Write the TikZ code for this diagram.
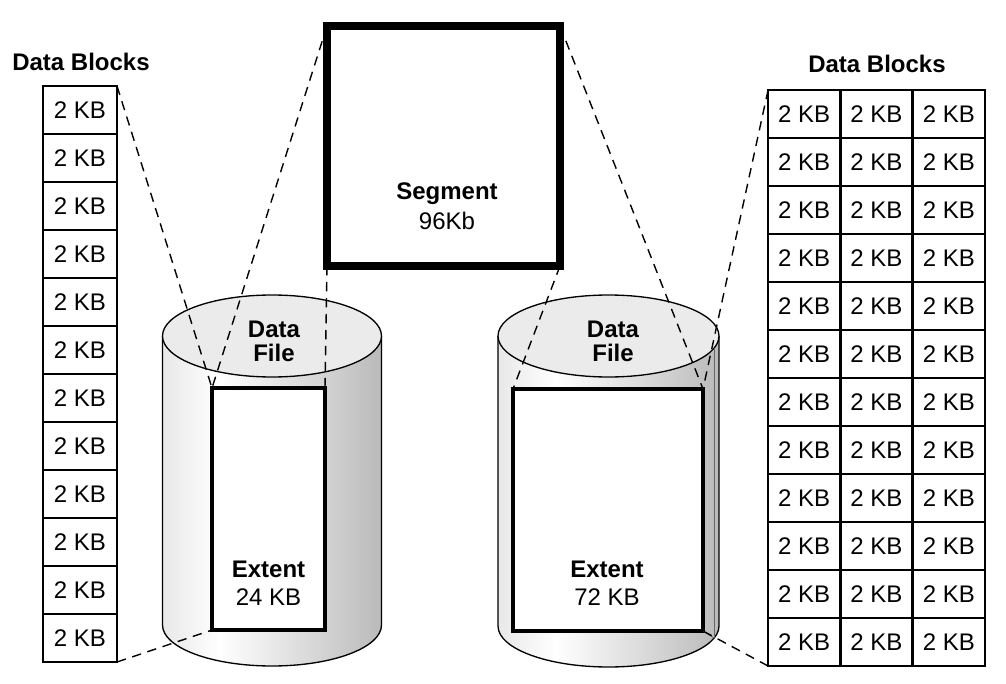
\documentclass[tikz,border=0pt]{standalone}
\usepackage{fontspec}
\setmainfont{Liberation Sans}
\pgfdeclarehorizontalshading{cylshade}{100bp}{color(0bp)=(black!9); color(25bp)=(black!9); color(38bp)=(white); color(75bp)=(black!27); color(100bp)=(black!27)}
\begin{document}
\begin{tikzpicture}[x=0.75pt,y=-0.75pt,
  font=\fontsize{18}{21}\selectfont,
  blk/.style={draw, line width=1.8pt, minimum width=55.5pt, minimum height=36pt, inner sep=0pt, outer sep=0pt, fill=white},
  rblk/.style={blk, minimum width=54.2pt},
  segbox/.style={draw, line width=6pt, minimum width=174.75pt, minimum height=180pt, inner sep=0pt, outer sep=0pt, fill=white},
  extbox/.style={draw, line width=2.6pt, minimum height=181.5pt, inner sep=0pt, outer sep=0pt, fill=white},
  conn/.style={line width=1.05pt, dash pattern=on 7pt off 5pt},
  cyl/.style={line width=1pt},
  lbl/.style={anchor=base, inner sep=0pt},
  blbl/.style={lbl, font=\fontsize{18}{21}\selectfont\bfseries}]
\useasboundingbox (0,0) rectangle (1006,684);

% left cylinder
\shade[shading=cylshade] (162.5,336) -- (162.5,625) arc[start angle=180,end angle=360,x radius=82.125pt,y radius=30.75pt] -- (381.5,336) -- cycle;
\draw[cyl] (162.5,336) -- (162.5,625) arc[start angle=180,end angle=360,x radius=82.125pt,y radius=30.75pt] -- (381.5,336);
\draw[cyl, fill=black!8] (272,336) ellipse[x radius=82.125pt, y radius=30.75pt];

% right cylinder
\shade[shading=cylshade] (498,336) -- (498,626) arc[start angle=180,end angle=360,x radius=82.875pt,y radius=30.75pt] -- (719,336) -- cycle;
\draw[cyl] (498,336) -- (498,626) arc[start angle=180,end angle=360,x radius=82.875pt,y radius=30.75pt] -- (719,336);
\draw[cyl, fill=black!8] (608.5,336) ellipse[x radius=82.875pt, y radius=30.75pt];

% extents
\node[extbox, minimum width=84.75pt] (ext1) at (268.5,509) {};
\node[extbox, minimum width=142.5pt] (ext2) at (608,510) {};
\coordinate (s1) at (714,348);
\coordinate (s2) at (714,638);
\draw[line width=0.6pt, black!60] (s1) -- (s2);
\draw[line width=0.6pt, black!60] (ext2.south east) -- (s2);

\node[blbl] (df1a) at (274,337) {Data};
\node[blbl] (df1b) at (274,361) {File};
\node[blbl] (df2a) at (613,337) {Data};
\node[blbl] (df2b) at (613,361) {File};
\node[blbl] (ex1a) at (268.5,577) {Extent};
\node[lbl] (ex1b) at (268.5,605) {24 KB};
\node[blbl] (ex2a) at (607,577) {Extent};
\node[lbl] (ex2b) at (607,605) {72 KB};

% segment
\node[segbox] (seg) at (443.5,146) {};
\node[blbl] (sega) at (447,200) {Segment};
\node[lbl] (segb) at (447,230) {96Kb};

% data blocks
\node[blbl] (t1) at (81,71) {Data Blocks};
\node[blbl] (t2) at (877,73) {Data Blocks};
\foreach \i in {1,...,12}
  \node[blk] (lb\i) at (80,{110+48*(\i-1)}) {2 KB};
\foreach \i in {1,...,12}
  \foreach \j/\cx in {1/804.2,2/876.5,3/948.8}
    \node[rblk] (rb\i-\j) at (\cx,{114+48*(\i-1)}) {2 KB};

% connectors
\draw[conn] (lb1.north east) -- (ext1.north west);
\draw[conn] (lb12.south east) -- (ext1.south west);
\draw[conn] (seg.north west) -- (ext1.north west);
\draw[conn] (seg.south west) -- (ext1.north east);
\draw[conn] (seg.north east) -- (ext2.north east);
\draw[conn] (seg.south east) -- (ext2.north west);
\draw[conn] (rb1-1.north west) -- (ext2.north east);
\draw[conn] (rb12-1.south west) -- (ext2.south east);
\end{tikzpicture}
\end{document}
